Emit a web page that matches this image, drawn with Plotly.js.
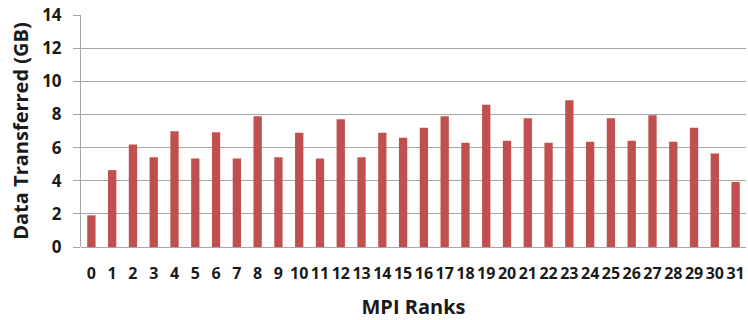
<!DOCTYPE html>
<html><head><meta charset="utf-8">
<script src="https://cdn.plot.ly/plotly-3.0.1.min.js"></script>
<style>html,body{margin:0;padding:0;background:#fff}#c{width:748px;height:320px}</style>
</head><body><div id="c"></div>
<script>
const ranks = ["0","1","2","3","4","5","6","7","8","9","10","11","12","13","14","15","16","17","18","19","20","21","22","23","24","25","26","27","28","29","30","31"];
const dataGB = [1.91,4.64,6.18,5.42,6.99,5.34,6.93,5.34,7.89,5.42,6.89,5.34,7.71,5.42,6.89,6.59,7.19,7.89,6.29,8.59,6.41,7.77,6.29,8.86,6.35,7.77,6.41,7.95,6.35,7.19,5.64,3.92];
const yTicks = [0,2,4,6,8,10,12,14];

const font = "'Open Sans', sans-serif";
Plotly.newPlot('c', [{
  type: 'bar', x: ranks, y: dataGB,
  marker: {color: '#C0504D', line: {width: 0}},
  hoverinfo: 'none'
}], {
  width: 748, height: 320,
  margin: {l: 81, r: 2, t: 15, b: 73},
  paper_bgcolor: '#fff', plot_bgcolor: '#fff',
  bargap: 0.6,
  showlegend: false,
  font: {family: font, color: '#1a1a1a'},
  xaxis: {
    type: 'category', tickangle: 0,
    tickfont: {size: 16, family: font, weight: 'bold'},
    showgrid: false, showline: false, zeroline: false, ticks: '',
    ticklabelstandoff: 15,
    title: {text: 'MPI Ranks', font: {size: 20, family: font, weight: 'bold'}, standoff: 16}
  },
  yaxis: {
    range: [0, 14], tickvals: yTicks, ticktext: yTicks.map(String),
    tickfont: {size: 17, family: font, weight: 'bold'},
    showgrid: true, gridcolor: '#A6A6A6', gridwidth: 1,
    showline: true, linecolor: '#A6A6A6', linewidth: 1,
    ticks: 'outside', ticklen: 7, tickcolor: '#A6A6A6',
    ticklabelstandoff: 8,
    zeroline: true, zerolinecolor: '#A6A6A6', zerolinewidth: 1,
    title: {text: 'Data Transferred (GB)', font: {size: 20, family: font, weight: 'bold'}, standoff: 8}
  }
}, {displayModeBar: false, staticPlot: true});
</script></body></html>
